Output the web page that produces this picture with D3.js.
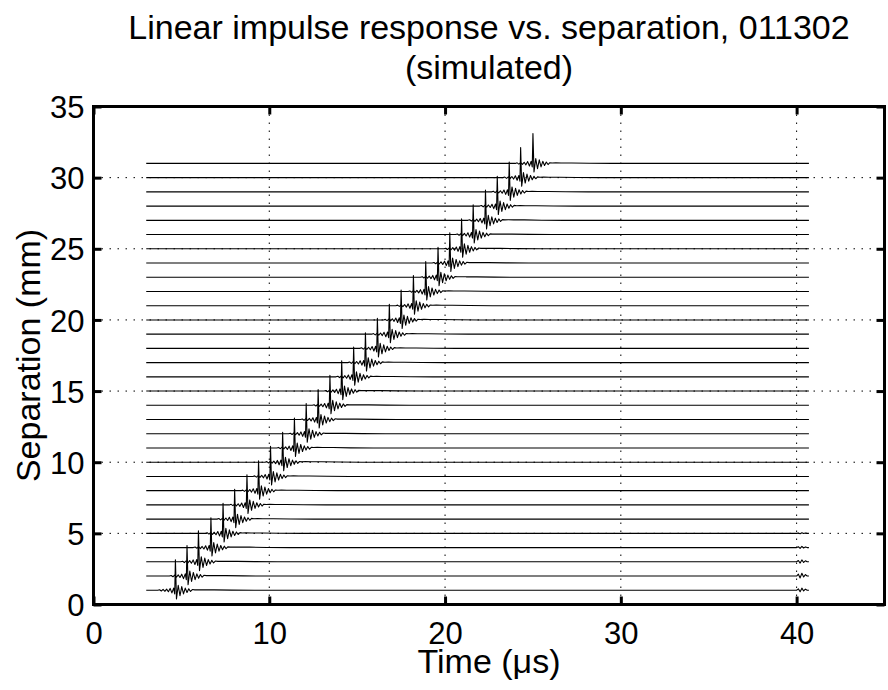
<!DOCTYPE html>
<html>
<head>
<meta charset="utf-8">
<script src="https://cdn.jsdelivr.net/npm/d3@7"></script>
<style>
  body { margin: 0; background: #fff; }
  text { font-family: "Liberation Sans", Arial, Helvetica, sans-serif; fill: #000; }
</style>
</head>
<body>
<div id="chart"></div>
<script>
// separations (mm) of each trace and the time (us) of its main spike
var separations = [1, 2, 3, 4, 5, 6, 7, 8, 9, 10, 11, 12, 13, 14, 15, 16,
                   17, 18, 19, 20, 21, 22, 23, 24, 25, 26, 27, 28, 29, 30, 31];
var peakTimes = [4.66, 5.32, 5.97, 6.68, 7.37, 8.03, 8.73, 9.39, 10.07, 10.76,
                 11.43, 12.10, 12.78, 13.45, 14.12, 14.80, 15.47, 16.15, 16.83, 17.50,
                 18.20, 18.90, 19.60, 20.27, 20.94, 21.60, 22.30, 22.97, 23.65, 24.30, 25.00];
var peakHeights = [2.15, 2.15, 2.18, 2.10, 2.12, 2.10, 2.12, 2.10, 2.12, 2.10,
                   2.10, 2.12, 2.10, 2.10, 2.12, 2.10, 2.10, 2.12, 2.10, 2.10,
                   2.12, 2.10, 2.10, 2.12, 2.10, 2.10, 2.12, 2.10, 2.10, 2.12, 2.10];

// pulse shape around the spike: time offset (us) and level (spike scaled to 1)
var pulseOffsets = [-1.0, -0.9, -0.8, -0.7, -0.6, -0.5, -0.4, -0.3, -0.2, -0.1,
                    -0.04, 0, 0.06, 0.16, 0.26, 0.36, 0.46, 0.56, 0.66, 0.76,
                    0.86, 0.96, 1.1, 1.3, 1.6, 2.2, 3.2, 4.5];
var pulseShape = [0, 0.019, -0.024, 0.028, -0.033, 0.038, -0.047, 0.061, -0.085, 0.071,
                  -0.118, 1, -0.283, 0.165, -0.179, 0.118, -0.118, 0.071, -0.071, 0.047,
                  -0.038, 0.024, 0.014, 0.019, 0.014, 0.014, 0.005, 0];

// small wiggle at the end of the lowest traces
var tailOffsets = [0, 0.1, 0.2, 0.3, 0.4, 0.5, 0.6];
var tailShape = [0, 0.10, -0.10, 0.15, -0.05, 0.08, 0];
var tailAmps = [1, 1.3, 0.9, 0.6, 0.3, 0, 0, 0, 0, 0, 0, 0, 0, 0, 0, 0,
                0, 0, 0, 0, 0, 0, 0, 0, 0, 0, 0, 0, 0, 0, 0];

var traceStart = 3.0;
var traceEnd = 40.7;
var tailStart = 40.0;

var xTicks = [0, 10, 20, 30, 40];
var yTicks = [0, 5, 10, 15, 20, 25, 30, 35];
var xGrid = [10, 20, 30, 40];
var yGrid = [5, 10, 15, 20, 25, 30];

var svgWidth = 888;
var svgHeight = 690;
var margin = { top: 106.5, right: 3.5, bottom: 85.5, left: 93.5 };
var width = svgWidth - margin.left - margin.right;
var height = svgHeight - margin.top - margin.bottom;

var svg = d3.select("#chart")
  .append("svg")
  .attr("width", svgWidth)
  .attr("height", svgHeight);

var chartGroup = svg.append("g")
  .attr("transform", `translate(${margin.left}, ${margin.top})`);

var xScale = d3.scaleLinear().domain([0, 45]).range([0, width]);
var yScale = d3.scaleLinear().domain([0, 35]).range([height, 0]);

// dotted grid
chartGroup.selectAll(".xgrid")
  .data(xGrid)
  .enter()
  .append("line")
  .attr("x1", d => xScale(d))
  .attr("x2", d => xScale(d))
  .attr("y1", 0)
  .attr("y2", height)
  .attr("stroke", "#000")
  .attr("stroke-width", 1)
  .attr("stroke-dasharray", "1.5,6.5");

chartGroup.selectAll(".ygrid")
  .data(yGrid)
  .enter()
  .append("line")
  .attr("x1", 0)
  .attr("x2", width)
  .attr("y1", d => yScale(d))
  .attr("y2", d => yScale(d))
  .attr("stroke", "#000")
  .attr("stroke-width", 1)
  .attr("stroke-dasharray", "1.5,6.5");

// build the points of one trace
function tracePoints(i) {
  var pts = [[traceStart, 0]];
  pulseOffsets.forEach(function(o, k) {
    pts.push([peakTimes[i] + o, pulseShape[k] * peakHeights[i]]);
  });
  if (tailAmps[i] > 0) {
    tailOffsets.forEach(function(o, k) {
      pts.push([tailStart + o, tailShape[k] * tailAmps[i]]);
    });
  }
  pts.push([traceEnd, 0]);
  return pts;
}

var traces = separations.map(function(s, i) {
  return tracePoints(i).map(p => [p[0], s + p[1]]);
});

var line = d3.line()
  .x(d => xScale(d[0]))
  .y(d => yScale(d[1]));

chartGroup.selectAll(".trace")
  .data(traces)
  .enter()
  .append("path")
  .attr("class", "trace")
  .attr("d", line)
  .attr("fill", "none")
  .attr("stroke", "#000")
  .attr("stroke-width", 1.1)
  .attr("stroke-linejoin", "round");

// axes on all four sides, ticks pointing in
var bottomAxis = d3.axisBottom(xScale).tickValues(xTicks).tickSizeInner(-8).tickSizeOuter(0).tickPadding(17);
var topAxis = d3.axisTop(xScale).tickValues(xTicks).tickSizeInner(-8).tickSizeOuter(0).tickFormat("");
var leftAxis = d3.axisLeft(yScale).tickValues(yTicks).tickSizeInner(-8).tickSizeOuter(0).tickPadding(9);
var rightAxis = d3.axisRight(yScale).tickValues(yTicks).tickSizeInner(-8).tickSizeOuter(0).tickFormat("");

var xAxis = chartGroup.append("g")
  .attr("transform", `translate(0,${height})`)
  .call(bottomAxis);
chartGroup.append("g").call(topAxis);
var yAxis = chartGroup.append("g").call(leftAxis);
chartGroup.append("g").attr("transform", `translate(${width},0)`).call(rightAxis);

chartGroup.selectAll(".domain").remove();
chartGroup.selectAll(".tick line").attr("stroke", "#000").attr("stroke-width", 3);
xAxis.selectAll("text").attr("font-size", 31).attr("dy", "0.71em");
yAxis.selectAll("text").attr("font-size", 31).attr("dy", "0.36em");

// box
chartGroup.append("rect")
  .attr("x", 0)
  .attr("y", 0)
  .attr("width", width)
  .attr("height", height)
  .attr("fill", "none")
  .attr("stroke", "#000")
  .attr("stroke-width", 3);

// labels
svg.append("text")
  .attr("x", margin.left + width / 2)
  .attr("y", 673)
  .attr("text-anchor", "middle")
  .attr("font-size", 34)
  .text("Time (μs)");

svg.append("text")
  .attr("transform", `translate(40, ${margin.top + height / 2}) rotate(-90)`)
  .attr("text-anchor", "middle")
  .attr("font-size", 34)
  .text("Separation (mm)");

svg.append("text")
  .attr("x", margin.left + width / 2)
  .attr("y", 39)
  .attr("text-anchor", "middle")
  .attr("font-size", 34)
  .text("Linear impulse response vs. separation, 011302");

svg.append("text")
  .attr("x", margin.left + width / 2)
  .attr("y", 79)
  .attr("text-anchor", "middle")
  .attr("font-size", 34)
  .text("(simulated)");
</script>
</body>
</html>
